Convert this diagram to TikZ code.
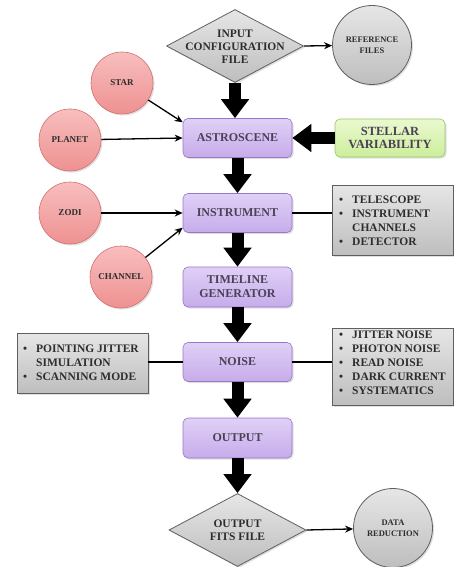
\documentclass[tikz,border=0pt]{standalone}
\usepackage{fontspec}
\setmainfont{Liberation Serif}
\usetikzlibrary{shapes.geometric,arrows.meta,shadows}
\definecolor{pinkF}{RGB}{248,190,190}
\definecolor{pinkB}{RGB}{238,145,145}
\definecolor{pinkD}{RGB}{210,110,110}
\definecolor{purF}{RGB}{224,208,247}
\definecolor{purB}{RGB}{198,172,234}
\definecolor{purD}{RGB}{150,120,200}
\definecolor{grnF}{RGB}{234,249,208}
\definecolor{grnB}{RGB}{204,238,155}
\definecolor{grnD}{RGB}{150,200,95}
\definecolor{gryF}{RGB}{230,230,230}
\definecolor{gryB}{RGB}{190,190,190}
\definecolor{gryD}{RGB}{95,95,95}
\definecolor{txtP}{RGB}{75,65,85}
\definecolor{txtK}{RGB}{45,45,45}
\tikzset{
  shad/.style={drop shadow={opacity=0.25,shadow xshift=1.5pt,shadow yshift=-1.5pt}},
  pcirc/.style={circle,draw=pinkD,line width=0.6pt,top color=pinkF,bottom color=pinkB,
    minimum size=62pt,inner sep=0pt,shad,text=txtK,font=\fontsize{9}{10}\selectfont\bfseries},
  gcirc/.style={circle,draw=gryD,line width=0.8pt,top color=gryF,bottom color=gryB,
    minimum size=79pt,inner sep=0pt,shad,text=txtK,font=\fontsize{8.5}{11.5}\selectfont\bfseries,align=center},
  pbox/.style={rectangle,rounded corners=5pt,draw=purD,line width=0.6pt,top color=purF,bottom color=purB,
    minimum width=109pt,minimum height=39pt,inner sep=0pt,shad,text=txtP,
    font=\fontsize{12}{14}\selectfont\bfseries,align=center},
  gbox/.style={rectangle,rounded corners=5pt,draw=grnD,line width=0.6pt,top color=grnF,bottom color=grnB,
    minimum width=110pt,minimum height=38pt,inner sep=0pt,shad,text=txtP,
    font=\fontsize{12.5}{13.5}\selectfont\bfseries,align=center},
  lbox/.style={rectangle,draw=gryD,line width=0.8pt,top color=gryF,bottom color=gryB,
    inner sep=0pt,shad,text=txtK,font=\fontsize{11.5}{14}\selectfont\bfseries},
  ltxt/.style={text=txtK,font=\fontsize{11.5}{14}\selectfont\bfseries,inner sep=0pt,anchor=west},
  diam/.style={diamond,draw=gryD,line width=0.8pt,top color=gryF,bottom color=gryB,
    minimum width=137pt,minimum height=73pt,inner sep=0pt,shad},
  dtext/.style={text=txtK,font=\fontsize{11.5}{13}\selectfont\bfseries,align=center,inner sep=0pt},
  thin/.style={line width=1.3pt,-{Stealth[length=8pt,width=7pt]}},
  plain/.style={line width=1.3pt},
  big/.style={line width=12pt,-{Triangle[length=19pt,width=27pt]}},
}
\newcommand{\blist}[1]{\begin{tabular}{@{}l@{\hspace{9pt}}l@{}}#1\end{tabular}}
\begin{document}
\begin{tikzpicture}[x=1pt,y=-1pt]
\useasboundingbox (0,0) rectangle (454,567);
% diamonds and gray circles
\node[diam] (in) at (235,46) {};
\node[dtext] (intxt) at (235,47) {INPUT\\CONFIGURATION\\FILE};
\node[gcirc] (ref) at (372,45) {REFERENCE\\FILES};
\node[diam] (outf) at (237.5,530) {};
\node[dtext] (outtxt) at (237.5,530) {OUTPUT\\FITS FILE};
\node[gcirc] (dr) at (393,528) {DATA\\REDUCTION};
% pink circles
\node[pcirc] (star) at (122,83) {STAR};
\node[pcirc] (planet) at (70,140) {PLANET};
\node[pcirc] (zodi) at (70,213) {ZODI};
\node[pcirc] (chan) at (121,277) {CHANNEL};
% purple boxes
\node[pbox] (astro) at (237.5,138) {ASTROSCENE};
\node[pbox] (instr) at (237.5,213) {INSTRUMENT};
\node[pbox,minimum height=40pt] (time) at (237.5,287) {TIMELINE\\GENERATOR};
\node[pbox] (noise) at (237.5,362) {NOISE};
\node[pbox,minimum height=40pt] (out) at (237.5,438) {OUTPUT};
% green box
\node[gbox] (stell) at (390,138) {STELLAR\\VARIABILITY};
% gray list boxes
\node[lbox,minimum width=121pt,minimum height=70pt] (tel) at (392.5,220) {};
\node[ltxt] (teltxt) at (339,222)
  {\blist{\textbullet & TELESCOPE\\ \textbullet & INSTRUMENT\\ & CHANNELS\\ \textbullet & DETECTOR}};
\node[lbox,minimum width=131pt,minimum height=60pt] (point) at (82.5,363) {};
\node[ltxt] (pointtxt) at (23,364)
  {\blist{\textbullet & POINTING JITTER\\ & SIMULATION\\ \textbullet & SCANNING MODE}};
\node[lbox,minimum width=121pt,minimum height=77pt] (nlist) at (392.5,366.5) {};
\node[ltxt] (nlisttxt) at (339,364)
  {\blist{\textbullet & JITTER NOISE\\ \textbullet & PHOTON NOISE\\ \textbullet & READ NOISE\\ \textbullet & DARK CURRENT\\ \textbullet & SYSTEMATICS}};
% big arrows
\draw[big] (in.south) -- (in.south |- astro.north);
\draw[big] (stell.west) -- (astro.east);
\draw[big] (astro.south) -- (instr.north);
\draw[big] (instr.south) -- (time.north);
\draw[big] (time.south) -- (noise.north);
\draw[big] (noise.south) -- (out.north);
\draw[big] (out.south) -- (outf.north);
% thin arrows
\draw[thin] (in.east) -- (ref);
\draw[thin] (outf.east) -- (dr);
\draw[thin] (star) -- (astro.164);
\draw[thin] (planet) -- (astro.west);
\draw[thin] (zodi) -- (instr.west);
\draw[thin] (chan) -- (instr.195);
% plain lines
\draw[plain] (instr.east) -- (tel.west |- instr.east);
\draw[plain] (noise.west) -- (point.east |- noise.west);
\draw[plain] (noise.east) -- (nlist.west |- noise.east);
\end{tikzpicture}
\end{document}
